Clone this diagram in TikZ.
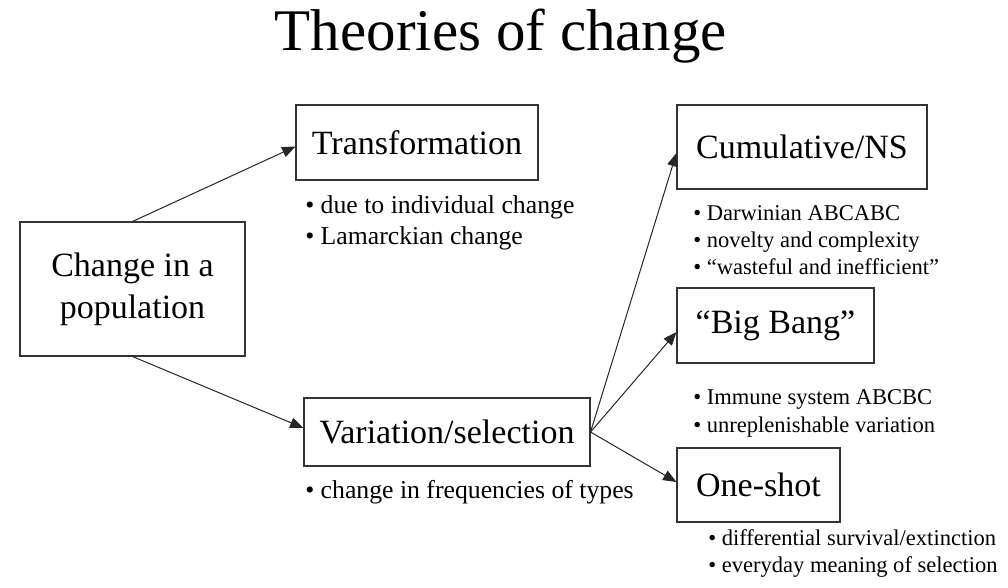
\documentclass[tikz,border=0pt]{standalone}
\usepackage{fontspec}
\setmainfont{Liberation Serif}
\usetikzlibrary{arrows.meta}
\begin{document}
\begin{tikzpicture}[x=0.75pt,y=-0.75pt,
  box/.style={draw=black!80,line width=0.8pt,inner sep=0pt,font=\fontsize{25.5}{30.75}\selectfont,align=center},
  bulL/.style={anchor=base west,inner sep=0pt,font=\fontsize{19.3}{22}\selectfont},
  bulR/.style={anchor=base west,inner sep=0pt,font=\fontsize{16.9}{20}\selectfont},
  conn/.style={draw=black!85,line width=0.75pt,-{Triangle[length=10pt,width=8pt]}}]
\useasboundingbox (0,0) rectangle (1008,587);
\node[anchor=base,inner sep=0pt,font=\fontsize{44.25}{50}\selectfont] (title) at (501,50) {Theories of change};

\node[box,minimum width=168.75pt,minimum height=100.5pt] (change) at (132.5,289) {\raisebox{-3pt}{\begin{tabular}{@{}c@{}}Change in a\\[0.75pt]population\end{tabular}}};
\node[box,minimum width=181.5pt,minimum height=56.25pt] (trans) at (417,142.5) {Transformation};
\node[box,minimum width=214.5pt,minimum height=51pt] (var) at (447,432) {Variation/selection};
\node[box,minimum width=187.5pt,minimum height=63pt] (cum) at (802,147) {Cumulative/NS};
\node[box,minimum width=147.75pt,minimum height=56.25pt] (bb) at (775.5,325.5) {“Big Bang”};
\node[box,minimum width=122.25pt,minimum height=55.5pt] (one) at (758.5,485) {One-shot};

\node[bulL] (t1) at (305,213) {• due to individual change};
\node[bulL] (t2) at (305,244) {• Lamarckian change};
\node[bulL] (v1) at (305,498) {• change in frequencies of types};

\node[bulR] (c1) at (693,220) {• Darwinian ABCABC};
\node[bulR] (c2) at (693,247) {• novelty and complexity};
\node[bulR] (c3) at (693,274) {• “wasteful and inefficient”};
\node[bulR] (b1) at (693,404) {• Immune system ABCBC};
\node[bulR] (b2) at (693,432) {• unreplenishable variation};
\node[bulR] (o1) at (708,545) {• differential survival/extinction};
\node[bulR] (o2) at (708,572) {• everyday meaning of selection};

\draw[conn] (change.north) -- ([yshift=-3pt]trans.west);
\draw[conn] (change.south) -- ([yshift=3pt]var.west);
\draw[conn] (var.east) -- ([yshift=-4.5pt]cum.west);
\draw[conn] (var.east) -- ([yshift=-4.9pt]bb.west);
\draw[conn] (var.east) -- ([yshift=2.25pt]one.west);
\end{tikzpicture}
\end{document}
